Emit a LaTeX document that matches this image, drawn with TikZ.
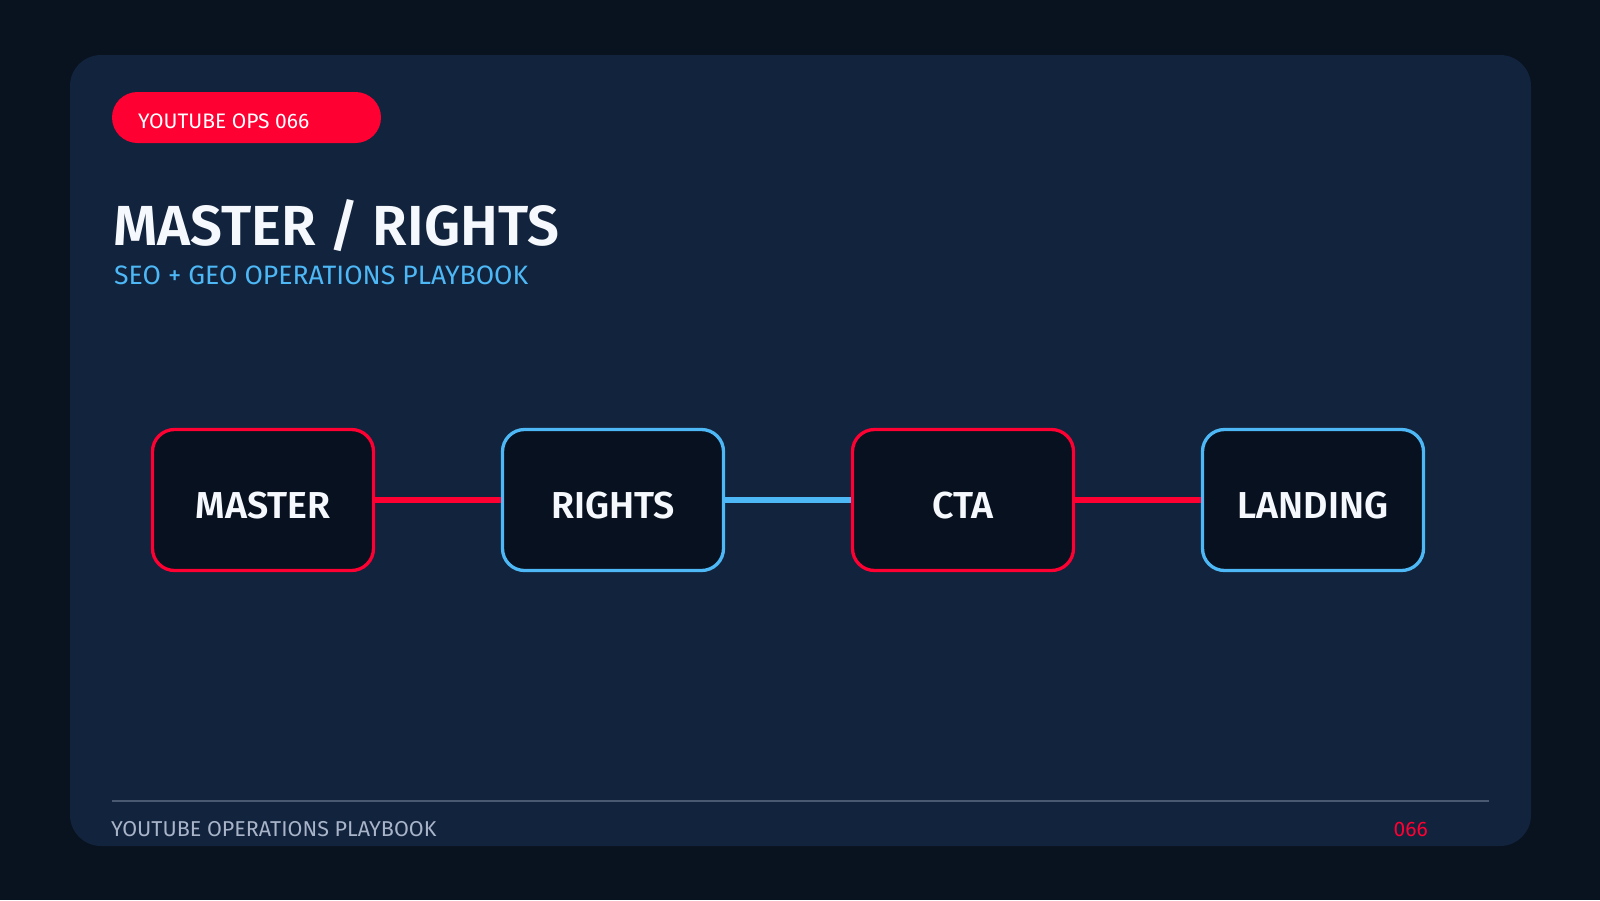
\documentclass[tikz,border=0pt]{standalone}
\usepackage{fontspec}
\setmainfont{Fira Sans}
\newfontfamily\boldf{Fira Sans SemiBold}
\definecolor{bgc}{HTML}{09121F}
\definecolor{cardc}{HTML}{12233D}
\definecolor{boxc}{HTML}{08111F}
\definecolor{redc}{HTML}{FF0033}
\definecolor{bluec}{HTML}{4DB8F5}
\definecolor{titlec}{HTML}{F5F8FC}
\definecolor{footc}{HTML}{A9B4C8}
\definecolor{rulec}{HTML}{4A5870}
\tikzset{
  stepbox/.style={draw, line width=3.3pt, fill=boxc, rounded corners=22pt,
    minimum width=221pt, minimum height=141pt, inner sep=0pt},
  redbox/.style={stepbox, draw=redc},
  bluebox/.style={stepbox, draw=bluec},
  lbl/.style={text=titlec, font=\boldf\fontsize{37.5}{42}\selectfont, anchor=base},
  link/.style={line width=5.5pt},
}
\begin{document}
\begin{tikzpicture}[x=1pt,y=-1pt]
\useasboundingbox (0,0) rectangle (1600,900);
\fill[bgc] (0,0) rectangle (1600,900);
\fill[cardc, rounded corners=31pt] (70,55) rectangle (1531,846);
\node[fill=redc, rounded corners=25.5pt, minimum width=269pt, minimum height=51pt, inner sep=0pt] (pill) at (246.5,117.5) {};
\node[anchor=base west, inner sep=0pt, text=white, font=\fontsize{21}{24}\selectfont] (pilltxt) at (138,128) {YOUTUBE OPS 066};
\node[anchor=base west, inner sep=0pt, text=titlec, font=\boldf\fontsize{56.5}{64}\selectfont] (title) at (113,245) {MASTER / RIGHTS};
\node[anchor=base west, inner sep=0pt, text=bluec, font=\fontsize{26.6}{30}\selectfont] (sub) at (114,284) {SEO + GEO OPERATIONS PLAYBOOK};
\node[redbox] (b1) at (263,500) {};
\node[bluebox] (b2) at (613,500) {};
\node[redbox] (b3) at (963,500) {};
\node[bluebox] (b4) at (1313,500) {};
\draw[link, redc] (b1.east) -- (b2.west);
\draw[link, bluec] (b2.east) -- (b3.west);
\draw[link, redc] (b3.east) -- (b4.west);
\node[lbl] (t1) at (263,518) {MASTER};
\node[lbl] (t2) at (613,518) {RIGHTS};
\node[lbl] (t3) at (963,518) {CTA};
\node[lbl] (t4) at (1313,518) {LANDING};
\coordinate (r1) at (112,801);
\coordinate (r2) at (1489,801);
\draw[rulec, line width=1.5pt] (r1) -- (r2);
\node[anchor=base west, inner sep=0pt, text=footc, font=\fontsize{21.5}{24}\selectfont] (foot) at (111,836) {YOUTUBE OPERATIONS PLAYBOOK};
\node[anchor=base east, inner sep=0pt, text=redc, font=\fontsize{21}{24}\selectfont] (num) at (1428,836) {066};
\end{tikzpicture}
\end{document}
